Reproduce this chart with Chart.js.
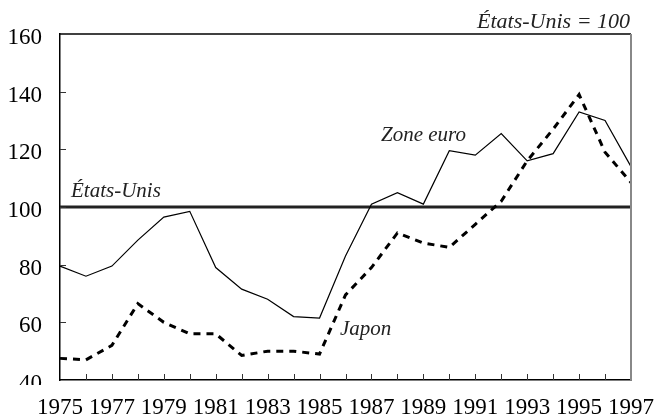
<!doctype html>
<html>
  <head>
    <title>Coûts salariaux unitaires relatifs</title>
    <meta charset="UTF-8">
    <style>
      html, body { margin: 0; padding: 0; background: #fff; }
      #chart-box { width: 657px; height: 417px; }
    </style>
  </head>
  <body>
    <div id="chart-box"><canvas id="myChart"></canvas></div>

    <script src="https://cdn.jsdelivr.net/npm/chart.js@4/dist/chart.umd.min.js"></script>
    <script>
      // données (États-Unis = 100)
      var years = ['1975','1976','1977','1978','1979','1980','1981','1982','1983','1984','1985','1986',
                   '1987','1988','1989','1990','1991','1992','1993','1994','1995','1996','1997'];
      var zone_euro = [79.5, 76, 79.5, 88.5, 96.5, 98.5, 79, 71.5, 68, 62, 61.5, 83,
                       101, 105, 101, 119.5, 118, 125.5, 116, 118.5, 133, 130, 114];
      var japon = [47.5, 47, 52, 66.5, 60, 56, 56, 48.5, 50, 50, 49, 69.5,
                   79, 91, 87.5, 86, 94, 102, 116, 127, 139, 119, 108.5];
      var etats_unis = [100, 100, 100, 100, 100, 100, 100, 100, 100, 100, 100, 100,
                        100, 100, 100, 100, 100, 100, 100, 100, 100, 100, 100];
      var y_min = 40, y_max = 160, y_step = 20;

      var serif = '"Liberation Serif", "Times New Roman", serif';

      // cadre haut/droite, graduations intérieures et libellés en italique
      var overlay = {
        id: 'overlay',
        afterDraw: function(chart){
          var ctx = chart.ctx;
          var a = chart.chartArea;
          var xs = chart.scales.x;
          var ys = chart.scales.y;
          ctx.save();

          // le "40" est coupé dans l'original
          ctx.fillStyle = '#fff';
          ctx.fillRect(0, 385, 56, 9);

          ctx.lineWidth = 1.5;
          ctx.strokeStyle = '#000';
          ctx.beginPath();
          ctx.moveTo(a.left, a.top);
          ctx.lineTo(a.right, a.top);
          ctx.stroke();
          ctx.strokeStyle = '#888';
          ctx.lineWidth = 2;
          ctx.beginPath();
          ctx.moveTo(a.right, a.top);
          ctx.lineTo(a.right, a.bottom);
          ctx.stroke();

          ctx.strokeStyle = '#333';
          ctx.lineWidth = 1;
          ys.ticks.forEach(function(t){
            if(t.value <= y_min || t.value >= y_max) return;
            var y = Math.round(ys.getPixelForValue(t.value)) + 0.5;
            ctx.beginPath();
            ctx.moveTo(a.left, y);
            ctx.lineTo(a.left + 6, y);
            ctx.stroke();
          });
          for(var i = 1; i < years.length - 1; i++){
            var x = Math.round(xs.getPixelForValue(i)) + 0.5;
            ctx.beginPath();
            ctx.moveTo(x, a.bottom);
            ctx.lineTo(x, a.bottom - 6);
            ctx.stroke();
          }

          ctx.fillStyle = '#222';
          ctx.textBaseline = 'alphabetic';
          ctx.font = 'italic 21px ' + serif;
          ctx.textAlign = 'left';
          ctx.fillText('États-Unis', 71, 197);
          ctx.fillText('Zone euro', 381, 141);
          ctx.fillText('Japon', 340, 335);
          ctx.font = 'italic 22px ' + serif;
          ctx.textAlign = 'right';
          ctx.fillText('États-Unis = 100', 630, 28);
          ctx.restore();
        }
      };

      var ctx = document.getElementById('myChart');
      var myChart = new Chart(ctx, {
        type: 'line',
        data: {
          labels: years,
          datasets: [{
            label: 'Japon',
            data: japon,
            borderColor: '#000',
            borderWidth: 3,
            borderDash: [7, 6],
            pointRadius: 0,
            tension: 0,
            fill: false
          }, {
            label: 'Zone euro',
            data: zone_euro,
            borderColor: '#000',
            borderWidth: 1.2,
            pointRadius: 0,
            tension: 0,
            fill: false
          }, {
            label: 'États-Unis',
            data: etats_unis,
            borderColor: '#222',
            borderWidth: 3,
            pointRadius: 0,
            tension: 0,
            fill: false
          }]
        },
        options: {
          responsive: true,
          maintainAspectRatio: false,
          animation: false,
          layout: { padding: { top: 34, right: 26, left: 0, bottom: 0 } },
          plugins: {
            legend: { display: false },
            tooltip: { enabled: false }
          },
          scales: {
            x: {
              offset: false,
              grid: { display: false, drawTicks: false },
              border: { display: true, color: '#000', width: 1.5 },
              ticks: {
                autoSkip: false,
                maxRotation: 0,
                padding: 14,
                color: '#000',
                font: { family: serif, size: 23 },
                callback: function(value, index){
                  return index % 2 === 0 ? years[index] : '';
                }
              },
              afterFit: function(scale){
                scale.height = 37;
                scale.paddingLeft = 0;
                scale.paddingRight = 0;
              }
            },
            y: {
              min: y_min,
              max: y_max,
              grid: { display: false, drawTicks: false },
              border: { display: true, color: '#000', width: 1.5 },
              ticks: {
                stepSize: y_step,
                padding: 18,
                labelOffset: 4,
                color: '#000',
                font: { family: serif, size: 23 }
              },
              afterFit: function(scale){
                scale.width = 60;
                scale.paddingTop = 0;
                scale.paddingBottom = 0;
              }
            }
          }
        },
        plugins: [overlay]
      });
    </script>
  </body>
</html>
